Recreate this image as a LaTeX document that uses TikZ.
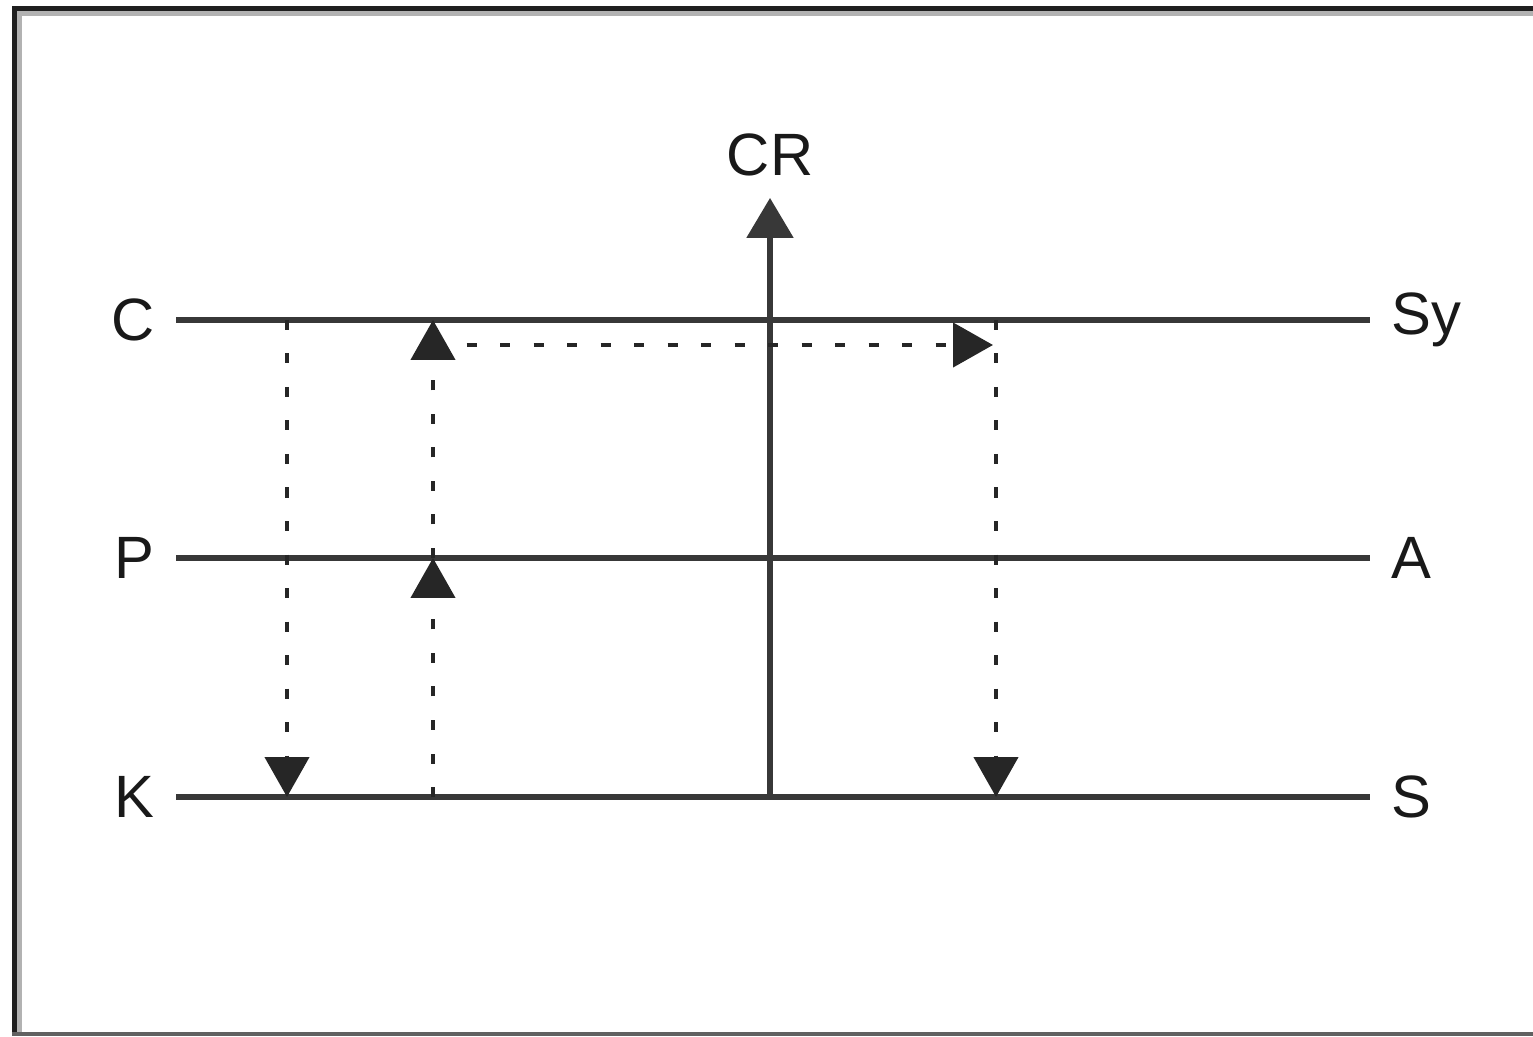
\documentclass[tikz,border=0pt]{standalone}
\usepackage{fontspec}
\setmainfont{Liberation Sans}
\usetikzlibrary{arrows.meta}

\begin{document}
\begin{tikzpicture}[line cap=butt,
  level/.style={line width=0.055cm,draw=black!78},
  rise/.style={line width=0.055cm,draw=black!78,-{Triangle[width=0.46cm,length=0.40cm]}},
  flow/.style={line width=0.045cm,draw=black!85,dash pattern=on 0.10cm off 0.235cm,
    -{Triangle[width=0.44cm,length=0.40cm]}},
  tag/.style={inner sep=6pt,font=\fontsize{17}{20}\selectfont,text=black!90}]
  \useasboundingbox (0,0) rectangle (15.33,10.36);
  \draw[line width=0.05cm,black!88] (15.40,10.275) -- (0.145,10.275) -- (0.145,0.04);
  \draw[line width=0.05cm,black!30] (15.40,10.225) -- (0.195,10.225) -- (0.195,0.04);
  \draw[line width=0.045cm,black!62] (0.12,0.02) -- (15.40,0.02);
  \node[tag,anchor=east] (C) at (1.76,7.16) {C};
  \node[tag,anchor=east] (P) at (1.76,4.78) {P};
  \node[tag,anchor=east] (K) at (1.76,2.39) {K};
  \node[tag,anchor=west] (Sy) at (13.70,7.16) {Sy};
  \node[tag,anchor=west] (A) at (13.70,4.78) {A};
  \node[tag,anchor=west] (S) at (13.70,2.39) {S};
  \node[tag] (CR) at (7.70,8.81) {CR};
  \draw[level] (C) -- (Sy);
  \draw[level] (P) -- (A);
  \draw[level] (K) -- (S);
  \coordinate (base) at (7.70,2.39);
  \draw[rise] (base) -- (CR);
  \coordinate (c1) at (2.87,7.16);
  \coordinate (k1) at (2.87,2.39);
  \coordinate (k2) at (4.33,2.39);
  \coordinate (p2) at (4.33,4.78);
  \coordinate (c2) at (4.33,7.16);
  \coordinate (h1) at (4.33,6.91);
  \coordinate (h2) at (9.93,6.91);
  \coordinate (c3) at (9.96,7.16);
  \coordinate (k3) at (9.96,2.39);
  \draw[flow] (c1) -- (k1);
  \draw[flow] (k2) -- (p2);
  \draw[flow] (p2) -- (c2);
  \draw[flow] (h1) -- (h2);
  \draw[flow] (c3) -- (k3);
\end{tikzpicture}
\end{document}
